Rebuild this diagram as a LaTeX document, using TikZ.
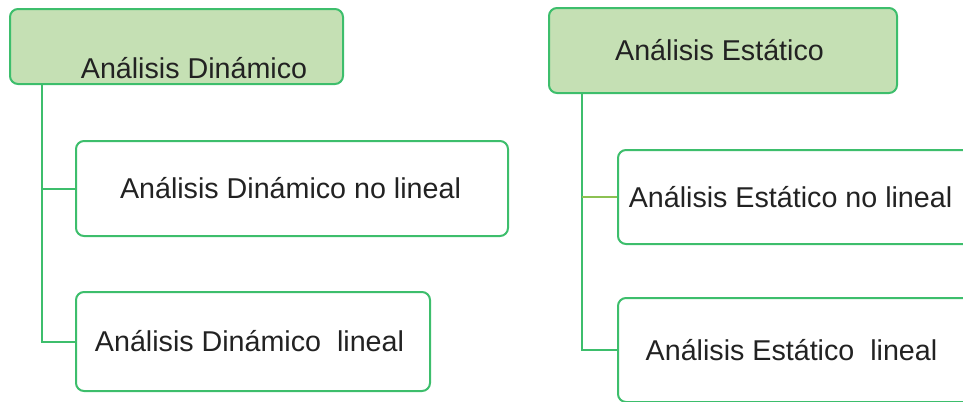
\documentclass[tikz,border=0pt]{standalone}
\usepackage{fontspec}
\setmainfont{Liberation Sans}
\definecolor{lineg}{HTML}{3DBE6C}
\definecolor{fillg}{HTML}{C5E0B4}
\definecolor{olive}{HTML}{8CC152}
\definecolor{txt}{HTML}{222222}
\begin{document}
\begin{tikzpicture}[x=0.75pt,y=-0.75pt,
  boxw/.style={draw=lineg,line width=1.5pt,rounded corners=6pt,fill=white,inner sep=0pt},
  boxg/.style={boxw,fill=fillg},
  lbl/.style={text=txt,font=\fontsize{21.5pt}{24pt}\selectfont,inner sep=0pt},
  conn/.style={draw=lineg,line width=1.5pt},
  connb/.style={draw=olive,line width=1.1pt}]
\useasboundingbox (0,0) rectangle (963,401);
\clip (0,0) rectangle (963,401);
% left tree
\node[boxg,minimum width=333*0.75pt,minimum height=75*0.75pt] (d0) at (176.5,46.5) {};
\node[lbl] (d0t) at (194,68) {Análisis Dinámico};
\node[boxw,minimum width=432*0.75pt,minimum height=95*0.75pt] (d1) at (292,188.5) {};
\node[lbl] (d1t) at (290.5,188) {Análisis Dinámico no lineal};
\node[boxw,minimum width=354*0.75pt,minimum height=99*0.75pt] (d2) at (253,341.5) {};
\node[lbl] (d2t) at (249.5,341) {Análisis Dinámico\ \ lineal};
\draw[conn] ([xshift=33*0.75pt]d0.south west) |- (d1.west);
\draw[conn] ([xshift=33*0.75pt]d0.south west) |- (d2.west);
% right tree
\node[boxg,minimum width=348*0.75pt,minimum height=85*0.75pt] (e0) at (723,50.5) {};
\node[lbl] (e0t) at (719.5,50) {Análisis Estático};
\node[boxw,minimum width=357*0.75pt,minimum height=94*0.75pt] (e1) at (796.5,197) {};
\node[lbl] (e1t) at (790.5,197) {Análisis Estático no lineal};
\node[boxw,minimum width=357*0.75pt,minimum height=104*0.75pt] (e2) at (796.5,350) {};
\node[lbl] (e2t) at (791.5,350) {Análisis Estático\ \ lineal};
\draw[conn] ([xshift=34*0.75pt]e0.south west) |- (e2.west);
\draw[connb] ([xshift=34*0.75pt]e0.south west |- e1.west) -- (e1.west);
\end{tikzpicture}
\end{document}
